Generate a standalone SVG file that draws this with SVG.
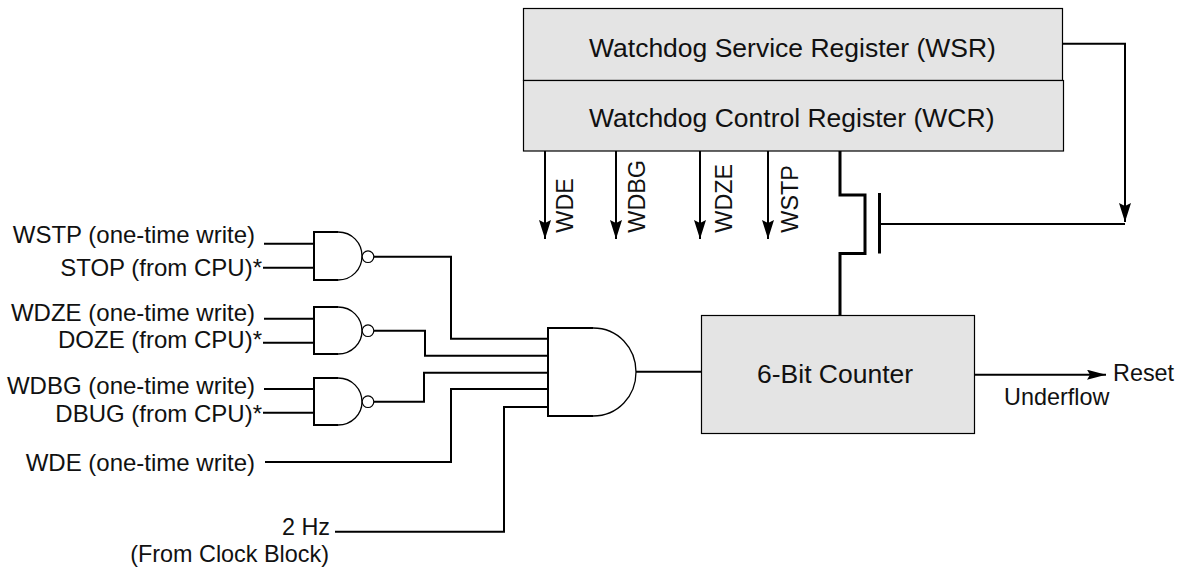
<svg xmlns="http://www.w3.org/2000/svg" width="1183" height="567" viewBox="0 0 1183 567">
<style>
text{font-family:"Liberation Sans",Arial,sans-serif;font-size:24px;fill:#111}
.e{text-anchor:end}
.s{font-size:23.4px}
.big{font-size:26.5px}
.box{fill:#e4e4e4;stroke:#000;stroke-width:1.2}
.w{fill:none;stroke:#000;stroke-width:2}
.t{fill:none;stroke:#000;stroke-width:3}
.g{fill:#fff;stroke:#000;stroke-width:1.3}
.gs{fill:none;stroke:#000;stroke-width:2}
.b{fill:#fff;stroke:#000;stroke-width:1.2}
</style>
<defs>
<marker id="ad" markerUnits="userSpaceOnUse" markerWidth="20" markerHeight="14" refX="19" refY="6" orient="auto"><path d="M0 0L19 6L0 12L3 6Z" fill="#000"/></marker>
<marker id="ar" markerUnits="userSpaceOnUse" markerWidth="20" markerHeight="12" refX="19" refY="5" orient="auto"><path d="M0 0L19 5L0 10L3 5Z" fill="#000"/></marker>
</defs>
<g id="connectors">
<path class="w" d="M264 243.700H313M263 267.700H313M264 318.700H313M263 342.700H313M264 389H313M263 412.700H313"/>
<path class="w" d="M374 256.700H451V338.700H548M374 330.700H425V355.700H548M374 401.700H424V372.700H548M265 462H451V389H548M335 531.700H504V407H548"/>
<path class="w" d="M636 371.700H701.500"/>
<path class="w" marker-end="url(#ar)" d="M975 374.700H1106"/>
<path class="w" marker-end="url(#ad)" d="M545 151V239"/>
<path class="w" marker-end="url(#ad)" d="M616 150V239"/>
<path class="w" marker-end="url(#ad)" d="M700 150V239"/>
<path class="w" marker-end="url(#ad)" d="M768 151V239"/>
<path class="w" marker-end="url(#ad)" d="M1061 43.700H1125V222"/>
<path class="w" d="M880 224H1125"/>
<path class="t" d="M840 151V195H865V253.500H840V315"/>
<path class="t" d="M879.500 193V253.500"/>
</g>
<g id="wsr"><rect class="box" x="523.500" y="8.500" width="539" height="72"/><text class="big" x="589" y="56.700">Watchdog Service Register (WSR)</text></g>
<g id="wcr"><rect class="box" x="523.500" y="80.500" width="540" height="70.500"/><text class="big" x="589" y="126.700">Watchdog Control Register (WCR)</text></g>
<g id="counter"><rect class="box" x="701.500" y="315.500" width="273" height="118"/><text class="big" x="757" y="382.700">6-Bit Counter</text></g>
<g id="nand1"><path class="g" d="M314 232H338C352 232 362 243 362 256C362 269 352 280 338 280H314Z"/><path class="gs" d="M338 232H314V280H338"/><circle class="b" cx="368" cy="256.700" r="5.800"/></g>
<g id="nand2"><path class="g" d="M314 307H338C352 307 362 318 362 331C362 343 352 354 338 354H314Z"/><path class="gs" d="M338 307H314V354H338"/><circle class="b" cx="368" cy="330.700" r="5.800"/></g>
<g id="nand3"><path class="g" d="M314 378H338C352 378 362 389 362 402C362 414 352 425 338 425H314Z"/><path class="gs" d="M338 378H314V425H338"/><circle class="b" cx="368" cy="401.700" r="5.800"/></g>
<g id="and"><path class="g" d="M548 328H593C618 328 636 348 636 372C636 396 618 416 593 416H548Z"/><path class="gs" d="M593 328H548V416H593"/></g>
<g id="labels">
<text class="e" x="255" y="243">WSTP (one-time write)</text>
<text class="e" x="262" y="276">STOP (from CPU)*</text>
<text class="e" x="255" y="320.700">WDZE (one-time write)</text>
<text class="e" x="262" y="348">DOZE (from CPU)*</text>
<text class="e" x="255" y="394">WDBG (one-time write)</text>
<text class="e" x="262" y="422">DBUG (from CPU)*</text>
<text class="e" x="255" y="470.600">WDE (one-time write)</text>
<text class="e s" x="330" y="534.500">2 Hz</text>
<text class="e s" x="329" y="561.500">(From Clock Block)</text>
<text class="s" x="1113" y="380.700">Reset</text>
<text class="s" x="1004" y="405">Underflow</text>
<text class="s" transform="translate(573 232.700) rotate(-90)">WDE</text>
<text class="s" transform="translate(645 232.700) rotate(-90)">WDBG</text>
<text class="s" transform="translate(731.700 232.700) rotate(-90)">WDZE</text>
<text class="s" transform="translate(797.700 232.700) rotate(-90)">WSTP</text>
</g>
</svg>
